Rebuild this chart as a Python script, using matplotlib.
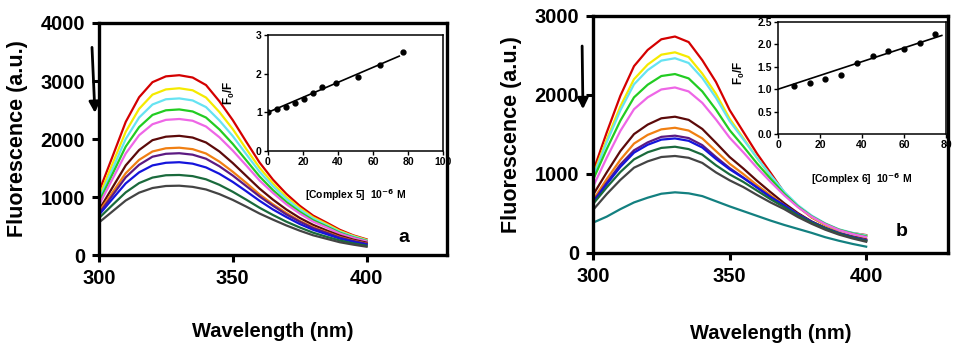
import numpy as np
import matplotlib
matplotlib.use("Agg")
import matplotlib.pyplot as plt

plt.rcParams["font.family"] = ["Liberation Sans", "DejaVu Sans"]
plt.rcParams["font.weight"] = "bold"
plt.rcParams["mathtext.default"] = "regular"

# wavelength grid (nm)
wavelength = [300, 305, 310, 315, 320, 325, 330, 335, 340, 345, 350, 355, 360,
              365, 370, 375, 380, 385, 390, 395, 400]

# panel a: emission spectra, complex 5
a_red = [1090, 1690, 2295, 2720, 2980, 3080, 3100, 3060, 2930, 2650, 2325, 1955,
         1595, 1300, 1055, 850, 680, 560, 435, 340, 270]
a_yellow = [1005, 1565, 2125, 2520, 2765, 2855, 2875, 2840, 2715, 2465, 2170,
            1830, 1505, 1235, 1000, 810, 650, 535, 415, 330, 260]
a_cyan = [950, 1475, 2000, 2370, 2595, 2685, 2700, 2665, 2550, 2320, 2050, 1740,
          1435, 1185, 965, 785, 630, 515, 400, 320, 253]
a_green = [910, 1390, 1870, 2205, 2415, 2495, 2510, 2475, 2370, 2165, 1915,
           1635, 1355, 1120, 915, 745, 600, 495, 385, 305, 243]
a_violet = [860, 1305, 1750, 2065, 2255, 2330, 2345, 2315, 2215, 2030, 1800,
            1545, 1285, 1070, 875, 715, 575, 475, 370, 295, 235]
a_brown = [775, 1160, 1545, 1810, 1980, 2040, 2055, 2025, 1940, 1785, 1585,
           1365, 1145, 955, 785, 640, 520, 425, 335, 265, 213]
a_orange = [745, 1075, 1410, 1640, 1785, 1840, 1850, 1825, 1750, 1610, 1435,
            1245, 1045, 875, 725, 590, 480, 395, 310, 248, 198]
a_purple = [715, 1025, 1340, 1555, 1695, 1745, 1755, 1730, 1660, 1530, 1370,
            1190, 1010, 850, 700, 575, 465, 385, 300, 242, 193]
a_blue = [690, 965, 1235, 1425, 1545, 1590, 1600, 1575, 1510, 1400, 1260, 1100,
          935, 785, 655, 535, 435, 360, 282, 227, 181]
a_dkgreen = [635, 860, 1080, 1240, 1335, 1375, 1380, 1360, 1305, 1210, 1090,
             955, 815, 690, 575, 475, 385, 315, 250, 201, 161]
a_gray = [560, 750, 940, 1075, 1155, 1190, 1195, 1175, 1130, 1050, 950, 835,
          715, 610, 510, 420, 340, 280, 220, 179, 143]

# panel b: emission spectra, complex 6
b_red = [1030, 1525, 1990, 2365, 2570, 2705, 2740, 2670, 2440, 2165, 1810,
         1535, 1260, 1015, 765, 590, 450, 355, 288, 252, 227]
b_yellow = [985, 1435, 1855, 2200, 2385, 2510, 2540, 2480, 2270, 2015, 1700,
            1455, 1205, 980, 755, 585, 455, 358, 288, 248, 219]
b_cyan = [965, 1400, 1805, 2135, 2315, 2435, 2465, 2405, 2215, 1965, 1670,
          1440, 1205, 985, 775, 605, 475, 375, 300, 255, 221]
b_green = [925, 1315, 1675, 1970, 2130, 2240, 2265, 2210, 2045, 1815, 1555,
           1350, 1135, 940, 750, 590, 465, 370, 296, 248, 210]
b_violet = [840, 1205, 1545, 1820, 1970, 2070, 2095, 2045, 1900, 1690, 1460,
            1275, 1080, 900, 730, 580, 460, 365, 291, 241, 202]
b_brown = [735, 1020, 1290, 1505, 1625, 1705, 1725, 1685, 1570, 1395, 1215,
           1070, 915, 770, 630, 505, 400, 320, 254, 209, 172]
b_orange = [670, 935, 1180, 1385, 1495, 1565, 1585, 1550, 1450, 1290, 1130,
            1000, 860, 730, 605, 490, 390, 310, 247, 201, 163]
b_purple = [650, 890, 1120, 1300, 1400, 1470, 1485, 1455, 1365, 1215, 1075,
            955, 830, 705, 595, 480, 385, 305, 244, 197, 158]
b_blue = [635, 870, 1090, 1270, 1370, 1435, 1450, 1420, 1335, 1190, 1060, 950,
          830, 710, 605, 490, 395, 315, 251, 201, 159]
b_dkgreen = [620, 830, 1025, 1185, 1275, 1330, 1345, 1315, 1245, 1110, 995,
             900, 790, 680, 580, 475, 385, 310, 244, 194, 152]
b_gray = [545, 745, 925, 1080, 1160, 1215, 1228, 1205, 1140, 1020, 920, 835,
          735, 640, 555, 455, 370, 295, 233, 184, 142]
b_teal = [384, 460, 555, 640, 700, 750, 768, 755, 720, 655, 590, 530, 470, 410,
          355, 305, 255, 200, 155, 115, 80]

a_colors = ["#d40000", "#f5ea00", "#66e3f2", "#22cc22", "#ee66e6", "#5c0a0a",
            "#f07f12", "#5c1a82", "#1414dc", "#1a6a3c", "#444444"]
b_colors = a_colors + ["#138080"]

# Stern-Volmer insets
a_conc = [0, 5.4, 10.5, 15.5, 20.5, 25.8, 30.8, 38.8, 51.2, 64.0, 76.9]
a_ratio = [1.0, 1.08, 1.15, 1.23, 1.34, 1.50, 1.66, 1.75, 1.92, 2.22, 2.57]
b_conc = [7.4, 15.0, 22.5, 30.0, 37.6, 45.2, 52.6, 60.0, 67.7, 74.8]
b_ratio = [1.08, 1.13, 1.22, 1.31, 1.59, 1.74, 1.85, 1.89, 2.04, 2.24]


def style_main(ax, ymax, ystep):
    ax.set_xlim(300, 430)
    ax.set_ylim(0, ymax)
    ax.set_xticks([300, 350, 400])
    ax.set_yticks(np.arange(0, ymax + 1, ystep))
    for s in ax.spines.values():
        s.set_linewidth(2.4)
    ax.tick_params(width=2.2, length=5, labelsize=14.5, pad=5)
    for lab in ax.get_xticklabels() + ax.get_yticklabels():
        lab.set_fontweight("bold")


def style_inset(ax):
    for s in ax.spines.values():
        s.set_linewidth(1.1)
    ax.tick_params(width=1.0, length=3, labelsize=7.5, pad=1.5)
    for lab in ax.get_xticklabels() + ax.get_yticklabels():
        lab.set_fontweight("bold")


def sv_fit(conc, ratio):
    x = np.array(conc)
    y = np.array(ratio)
    k = np.sum(x * (y - 1)) / np.sum(x * x)
    return k


fig = plt.figure(figsize=(9.57, 3.49), dpi=100)

# ---- panel a
ax1 = fig.add_axes([0.1034, 0.2693, 0.3636, 0.6648])
a_series = [a_red, a_yellow, a_cyan, a_green, a_violet, a_brown, a_orange,
            a_purple, a_blue, a_dkgreen, a_gray]
for vals, c in zip(a_series, a_colors):
    ax1.plot(wavelength, vals, color=c, lw=1.6, solid_joinstyle="round")
style_main(ax1, 4000, 1000)
ax1.set_ylabel("Fluorescence (a.u.)", fontsize=15.5, fontweight="bold")
ax1.yaxis.set_label_coords(-0.205, 0.5)
ax1.set_xlabel("Wavelength (nm)", fontsize=14.5, fontweight="bold")
ax1.xaxis.set_label_coords(0.5, -0.29)
ax1.text(414, 310, "a", fontsize=14, fontweight="bold", ha="center", va="center")
ax1.annotate("", xy=(298.5, 2450), xytext=(297.4, 3580),
             arrowprops=dict(arrowstyle="-|>", lw=2.0, color="black",
                             mutation_scale=16, shrinkA=0, shrinkB=0),
             annotation_clip=False)

ins1 = fig.add_axes([0.2800, 0.5673, 0.1829, 0.3324])
k1 = sv_fit(a_conc, a_ratio)
ins1.plot(a_conc, a_ratio, "o", color="black", ms=3.5)
xf = np.array([0, 75])
ins1.plot(xf, 1 + k1 * xf, color="black", lw=1.2)
ins1.set_xlim(0, 100)
ins1.set_ylim(0, 3)
ins1.set_xticks([0, 20, 40, 60, 80, 100])
ins1.set_yticks([0, 1, 2, 3])
style_inset(ins1)
ins1.set_ylabel("F$_0$/F", fontsize=8.5, fontweight="bold")
ins1.yaxis.set_label_coords(-0.177, 0.5)
ins1.set_xlabel(r"[Complex 5]  10$^{\mathbf{-6}}$ M", fontsize=7.5,
                fontweight="bold")
ins1.xaxis.set_label_coords(0.5, -0.31)

# ---- panel b
ax2 = fig.add_axes([0.6197, 0.2751, 0.3710, 0.6791])
b_series = [b_red, b_yellow, b_cyan, b_green, b_violet, b_brown, b_orange,
            b_purple, b_blue, b_dkgreen, b_gray, b_teal]
for vals, c in zip(b_series, b_colors):
    ax2.plot(wavelength, vals, color=c, lw=1.6, solid_joinstyle="round")
style_main(ax2, 3000, 1000)
ax2.set_ylabel("Fluorescence (a.u.)", fontsize=15.5, fontweight="bold")
ax2.yaxis.set_label_coords(-0.2, 0.5)
ax2.set_xlabel("Wavelength (nm)", fontsize=14.5, fontweight="bold")
ax2.xaxis.set_label_coords(0.5, -0.30)
ax2.text(413, 266, "b", fontsize=14, fontweight="bold", ha="center", va="center")
ax2.annotate("", xy=(296.3, 1820), xytext=(296.0, 2620),
             arrowprops=dict(arrowstyle="-|>", lw=2.0, color="black",
                             mutation_scale=16, shrinkA=0, shrinkB=0),
             annotation_clip=False)

ins2 = fig.add_axes([0.8130, 0.6160, 0.1755, 0.3209])
k2 = sv_fit(b_conc, b_ratio)
ins2.plot(b_conc, b_ratio, "o", color="black", ms=3.5)
xf = np.array([0, 78])
ins2.plot(xf, 1 + k2 * xf, color="black", lw=1.2)
ins2.set_xlim(0, 80)
ins2.set_ylim(0, 2.5)
ins2.set_xticks([0, 20, 40, 60, 80])
ins2.set_yticks([0.0, 0.5, 1.0, 1.5, 2.0, 2.5])
ins2.set_yticklabels(["0.0", "0.5", "1.0", "1.5", "2.0", "2.5"])
style_inset(ins2)
ins2.set_ylabel("F$_0$/F", fontsize=8.5, fontweight="bold")
ins2.yaxis.set_label_coords(-0.185, 0.55)
ins2.set_xlabel(r"[Complex 6]  10$^{\mathbf{-6}}$ M", fontsize=7.5,
                fontweight="bold")
ins2.xaxis.set_label_coords(0.5, -0.33)

fig.savefig("out.png", dpi=100)
